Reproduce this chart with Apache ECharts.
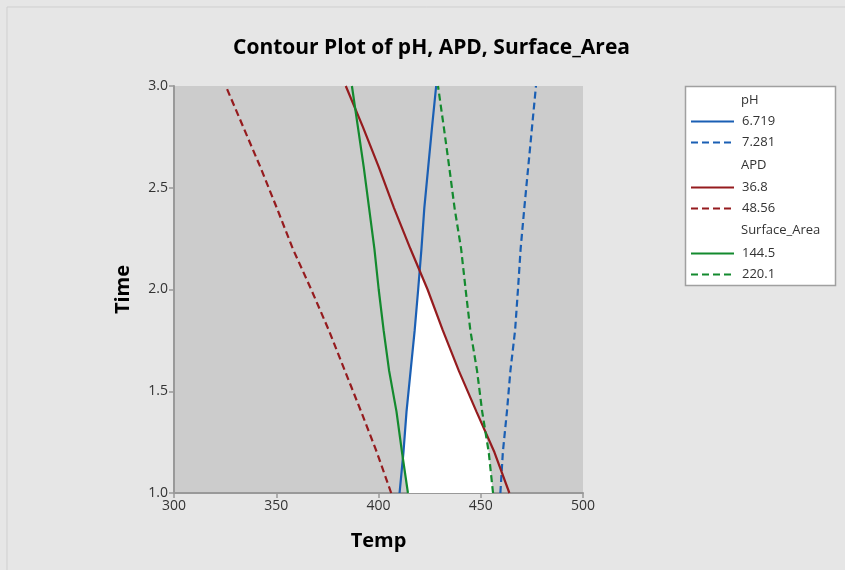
<!DOCTYPE html>
<html>
<head>
<meta charset="utf-8">
<script src="https://cdn.jsdelivr.net/npm/echarts@6/dist/echarts.min.js"></script>
<style>
  html, body { margin: 0; padding: 0; background: #e6e6e6; }
  #chart { width: 845px; height: 570px; }
</style>
</head>
<body>
<div id="chart"></div>
<script>
// contour levels: Temp at each Time
var times   = [1.0, 1.2, 1.4, 1.6, 1.8, 2.0, 2.2, 2.4, 2.6, 2.8, 3.0];
var phLow   = [410.3, 412.2, 413.7, 415.7, 417.7, 419.4, 421.0, 422.4, 424.3, 426.2, 428.2]; // 6.719
var phHigh  = [459.6, 460.8, 462.8, 464.5, 466.8, 468.2, 469.5, 471.3, 473.2, 475.1, 477.0]; // 7.281
var apdLow  = [464.0, 456.7, 447.9, 439.3, 431.4, 424.0, 415.6, 407.6, 400.2, 392.3, 384.0]; // 36.8
var apdHigh = [406.2, 399.2, 391.5, 383.6, 375.7, 367.1, 358.1, 350.3, 342.3, 333.8, 325.3]; // 48.56
var saLow   = [414.4, 411.5, 408.8, 405.2, 402.5, 400.1, 398.0, 395.4, 392.8, 389.9, 387.0]; // 144.5
var saHigh  = [456.0, 453.9, 450.7, 448.2, 444.9, 442.6, 440.4, 437.2, 434.6, 431.9, 429.1]; // 220.1

var xTicks = [300, 350, 400, 450, 500];
var yTicks = [1.0, 1.5, 2.0, 2.5, 3.0];

var blue = '#1a5fb4', red = '#951b1e', green = '#138a2e';
var font = 'Open Sans';

function pts(arr) {
    return arr.map(function (v, i) { return [v, times[i]]; });
}

function interp(arr, t) {
    for (var i = 0; i < times.length - 1; i++) {
        if (t <= times[i + 1] + 1e-9) {
            var f = (t - times[i]) / (times[i + 1] - times[i]);
            return arr[i] + f * (arr[i + 1] - arr[i]);
        }
    }
    return arr[arr.length - 1];
}

// feasible (white) region between the contours
function feasible() {
    var left = [], right = [];
    for (var t = times[0]; t <= times[times.length - 1] + 1e-9; t += 0.005) {
        var l = Math.max(interp(phLow, t), interp(saLow, t));
        var r = Math.min(interp(apdLow, t), interp(saHigh, t), interp(phHigh, t));
        if (r > l) { left.push([l, t]); right.push([r, t]); }
    }
    return left.concat(right.reverse());
}
var region = feasible();

function lineSeries(name, arr, color, dashed) {
    return {
        name: name, type: 'line', data: pts(arr), symbol: 'none', smooth: false,
        lineStyle: { color: color, width: 2.2, type: dashed ? [7, 4] : 'solid' },
        itemStyle: { color: color }, z: 3
    };
}

function legendBlock(items, top) {
    return {
        show: true, orient: 'vertical', left: 690, top: top, data: items, padding: 0,
        itemWidth: 43, itemHeight: 12, itemGap: 8,
        itemStyle: { opacity: 0 },
        textStyle: { fontSize: 13, color: '#333', fontFamily: font, padding: [0, 0, 0, 3] },
        selectedMode: false, z: 5
    };
}

var myChart = echarts.init(document.getElementById('chart'));
var option = {
    backgroundColor: '#e6e6e6',
    animation: false,
    title: {
        text: 'Contour Plot of pH, APD, Surface_Area',
        left: 228, top: 33,
        textStyle: { fontSize: 21, fontWeight: 'bold', color: '#000', fontFamily: font }
    },
    grid: { left: 174, right: 262, top: 86, bottom: 77, show: true, backgroundColor: '#cccccc', borderWidth: 0 },
    legend: [
        legendBlock(['6.719', '7.281'], 115),
        legendBlock(['36.8', '48.56'], 181),
        legendBlock(['144.5', '220.1'], 247)
    ],
    graphic: [
        { type: 'rect', shape: { x: 7, y: 7, width: 845, height: 570 }, style: { fill: 'none', stroke: '#cfcfcf', lineWidth: 1 }, z: -1 },
        { type: 'rect', shape: { x: 685.5, y: 86.5, width: 150, height: 199 }, style: { fill: '#fff', stroke: '#a0a0a0', lineWidth: 1.5 }, z: -1 },
        { type: 'text', left: 741, top: 94, style: { text: 'pH', fontSize: 13, fill: '#333', fontFamily: font } },
        { type: 'text', left: 741, top: 159, style: { text: 'APD', fontSize: 13, fill: '#333', fontFamily: font } },
        { type: 'text', left: 741, top: 224, style: { text: 'Surface_Area', fontSize: 13, fill: '#333', fontFamily: font } }
    ],
    xAxis: {
        type: 'value', min: 300, max: 500, interval: 50,
        name: 'Temp', nameLocation: 'middle', nameGap: 38,
        nameTextStyle: { fontSize: 20, fontWeight: 'bold', color: '#000', fontFamily: font },
        axisLine: { show: true, onZero: false, lineStyle: { color: '#999', width: 2 } },
        axisTick: { show: true, length: 5, lineStyle: { color: '#999', width: 1.5 } },
        axisLabel: { fontSize: 14, color: '#333', margin: 6, fontFamily: font,
            formatter: function (v) { return xTicks.indexOf(v) >= 0 ? String(v) : ''; } },
        splitLine: { show: false }
    },
    yAxis: {
        type: 'value', min: 1, max: 3, interval: 0.5,
        name: 'Time', nameLocation: 'middle', nameGap: 41,
        nameTextStyle: { fontSize: 20, fontWeight: 'bold', color: '#000', fontFamily: font },
        axisLine: { show: true, onZero: false, lineStyle: { color: '#999', width: 2 } },
        axisTick: { show: true, length: 5, lineStyle: { color: '#999', width: 1.5 } },
        axisLabel: { fontSize: 14, color: '#333', margin: 6, fontFamily: font,
            formatter: function (v) { return yTicks.indexOf(v) >= 0 ? v.toFixed(1) : ''; } },
        splitLine: { show: false }
    },
    series: [
        {
            type: 'custom', name: 'feasible', data: [0], z: 1, silent: true,
            renderItem: function (params, api) {
                return {
                    type: 'polygon',
                    shape: { points: region.map(function (p) { return api.coord(p); }) },
                    style: { fill: '#ffffff', stroke: 'none' }
                };
            }
        },
        lineSeries('6.719', phLow, blue, false),
        lineSeries('7.281', phHigh, blue, true),
        lineSeries('36.8', apdLow, red, false),
        lineSeries('48.56', apdHigh, red, true),
        lineSeries('144.5', saLow, green, false),
        lineSeries('220.1', saHigh, green, true)
    ]
};
myChart.setOption(option);
</script>
</body>
</html>
